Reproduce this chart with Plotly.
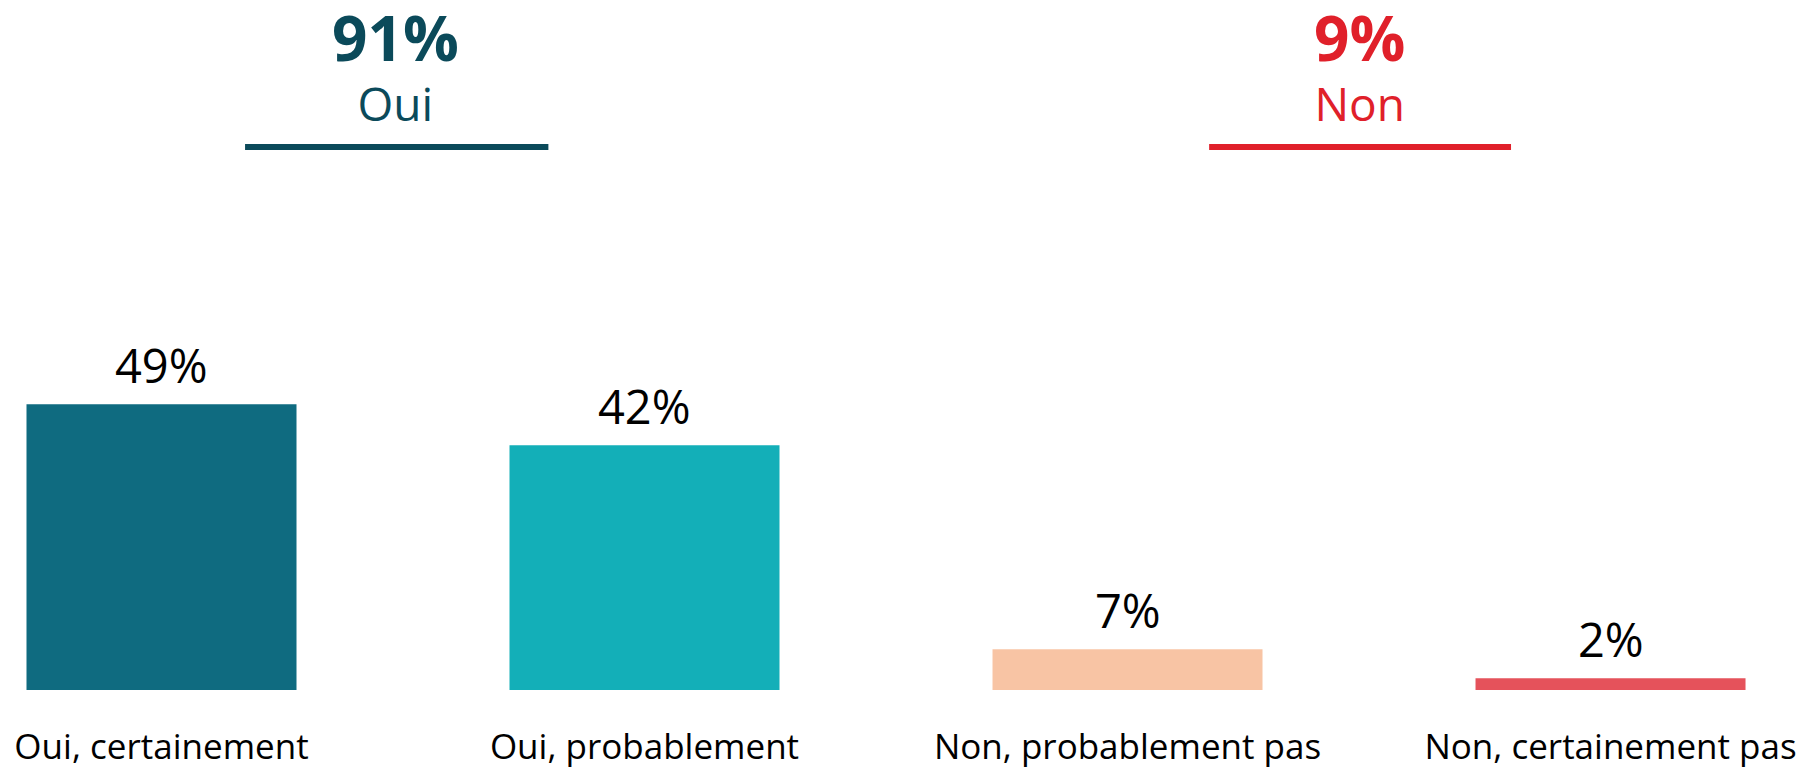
import plotly.graph_objects as go

categories = ["Oui, certainement", "Oui, probablement", "Non, probablement pas", "Non, certainement pas"]
values = [49, 42, 7, 2]
value_labels = ["49%", "42%", "7%", "2%"]
bar_colors = ["#0f6b80", "#13afb8", "#f8c4a4", "#e5525b"]

group_totals = ["91%", "9%"]
group_names = ["Oui", "Non"]
group_colors = ["#0b4a5a", "#e0202a"]
group_centers = [0.485, 2.48]
group_spans = [(0.173, 0.801), (2.169, 2.794)]

FONT = "Open Sans"
PLOT_H = 682

fig = go.Figure()
fig.add_trace(go.Bar(
    x=list(range(len(categories))),
    y=values,
    marker=dict(color=bar_colors, line=dict(width=0)),
    hoverinfo="skip",
))

for i, (v, lab) in enumerate(zip(values, value_labels)):
    fig.add_annotation(x=i, y=v, xref="x", yref="y", text=lab, showarrow=False,
                       xanchor="center", yanchor="bottom", yshift=5,
                       font=dict(family=FONT, size=47, color="#000000"))

for name, total, color, cx, (x0, x1) in zip(group_names, group_totals, group_colors, group_centers, group_spans):
    fig.add_annotation(x=cx, xref="x", y=1 - 128 / PLOT_H, yref="paper",
                       text="<span style='font-size:62px'><b>" + total + "</b></span><br>" + name,
                       showarrow=False, font=dict(family=FONT, size=46, color=color),
                       xanchor="center", yanchor="bottom")
    fig.add_shape(type="line", xref="x", yref="paper", x0=x0, x1=x1,
                  y0=1 - 139 / PLOT_H, y1=1 - 139 / PLOT_H,
                  line=dict(color=color, width=6))

fig.update_layout(
    width=1809, height=767,
    margin=dict(l=0, r=0, t=0, b=767 - PLOT_H),
    paper_bgcolor="white", plot_bgcolor="white",
    showlegend=False,
    bargap=0.441,
    xaxis=dict(
        tickmode="array", tickvals=list(range(len(categories))), ticktext=categories,
        range=[-0.3178, 3.4275], showgrid=False, zeroline=False, showline=False, ticks="",
        tickfont=dict(family=FONT, size=35, color="#000000"), ticklabelstandoff=33,
    ),
    yaxis=dict(range=[0, PLOT_H / 5.83], visible=False, showgrid=False, zeroline=False),
)

fig.write_html("out.html")
